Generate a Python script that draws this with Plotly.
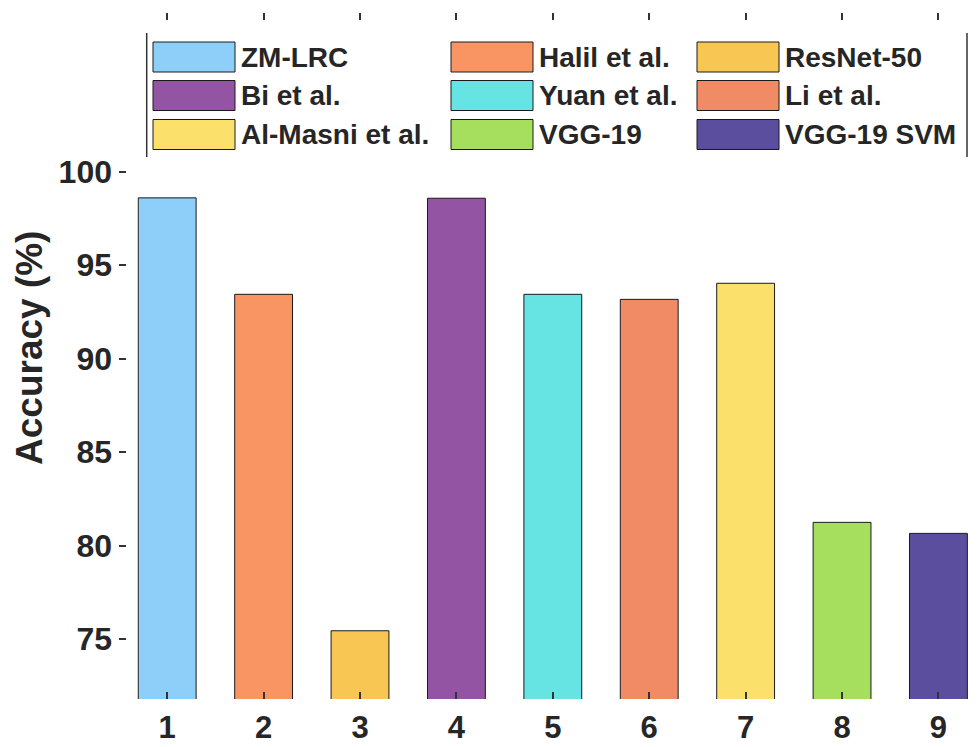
import plotly.graph_objects as go

# ---- data ----
methods = ["ZM-LRC", "Halil et al.", "ResNet-50", "Bi et al.", "Yuan et al.",
           "Li et al.", "Al-Masni et al.", "VGG-19", "VGG-19 SVM"]
positions = [1, 2, 3, 4, 5, 6, 7, 8, 9]
accuracy = [98.6, 93.44, 75.44, 98.58, 93.44, 93.17, 94.03, 81.24, 80.65]
colors = ["#8DCFF8", "#F99563", "#F8C753", "#9355A3", "#66E3E3",
          "#F18B66", "#FBE06C", "#A6DF5D", "#5C4E9F"]
ytick_vals = [75, 80, 85, 90, 95, 100]
xtick_vals = [1, 2, 3, 4, 5, 6, 7, 8, 9]

OFF = 8  # page body margin
W, H = 977 - OFF, 747 - OFF
ML, MR, MT, MB = 119 - OFF, 0, 13 - OFF, 747 - 699
PW, PH = W - ML - MR, H - MT - MB
FONT = "Liberation Sans, Arial, Helvetica, sans-serif"
TXT = "#262626"


def px2paper(x, y):
    # screen pixel -> paper coords
    x -= OFF
    y -= OFF
    return (x - ML) / PW, (H - MB - y) / PH


fig = go.Figure()
for i, name in enumerate(methods):
    fig.add_trace(go.Bar(
        x=[positions[i]], y=[accuracy[i]], name=name, width=0.6,
        marker=dict(color=colors[i], line=dict(color="#1a1a1a", width=1)),
        showlegend=False,
    ))

# ---- manual legend (wide MATLAB-style patches) ----
col_x = [153, 451, 697]
rect_w = 82
row_y = [42, 80.5, 119.5]
rect_h = 30
shapes = []
annotations = []
for i, name in enumerate(methods):
    r, c = divmod(i, 3)
    x0, y0 = col_x[c], row_y[r]
    x1, y1 = x0 + rect_w, y0 + rect_h
    px0, py1 = px2paper(x0, y0)
    px1, py0 = px2paper(x1, y1)
    shapes.append(dict(type="rect", xref="paper", yref="paper",
                       x0=px0, x1=px1, y0=py0, y1=py1,
                       fillcolor=colors[i], line=dict(color="#1a1a1a", width=1)))
    tx, ty = px2paper(x1 + 4, y0 + rect_h / 2)
    annotations.append(dict(xref="paper", yref="paper", x=tx, y=ty,
                            xanchor="left", yanchor="middle", showarrow=False,
                            text=name, font=dict(family=FONT, size=28, color=TXT, weight="bold")))

# legend box side lines
for lx in [146.7, 967.0]:
    a0, b0 = px2paper(lx, 157)
    a1, b1 = px2paper(lx, 33)
    shapes.append(dict(type="line", xref="paper", yref="paper",
                       x0=a0, x1=a1, y0=b0, y1=b1,
                       line=dict(color="#333333", width=1.5)))

# y-axis title
ax, ay = px2paper(29, 348)
annotations.append(dict(xref="paper", yref="paper", x=ax, y=ay, textangle=-90,
                        xanchor="center", yanchor="middle", showarrow=False,
                        text="Accuracy (%)",
                        font=dict(family=FONT, size=37, color=TXT, weight="bold")))

fig.update_layout(
    width=W, height=H,
    margin=dict(l=ML, r=MR, t=MT, b=MB, pad=0, autoexpand=False),
    plot_bgcolor="white", paper_bgcolor="white",
    shapes=shapes, annotations=annotations,
    font=dict(family=FONT, color=TXT),
)
fig.update_xaxes(
    range=[0.5, 9.4], tickvals=xtick_vals, ticktext=[str(v) for v in xtick_vals],
    ticks="inside", ticklen=7, tickwidth=1.5, tickcolor="#333333",
    showline=False, mirror="ticks", showgrid=False, zeroline=False,
    tickfont=dict(family=FONT, size=31, color=TXT, weight="bold"),
    ticklabelstandoff=7, automargin=False,
)
fig.update_yaxes(
    range=[71.79, 108.49], tickvals=ytick_vals, ticktext=[str(v) for v in ytick_vals],
    ticks="inside", ticklen=7, tickwidth=1.5, tickcolor="#333333",
    showline=False, mirror="ticks", showgrid=False, zeroline=False,
    tickfont=dict(family=FONT, size=32, color=TXT, weight="bold"),
    ticklabelstandoff=6, automargin=False,
)

fig.write_html("out.html")
